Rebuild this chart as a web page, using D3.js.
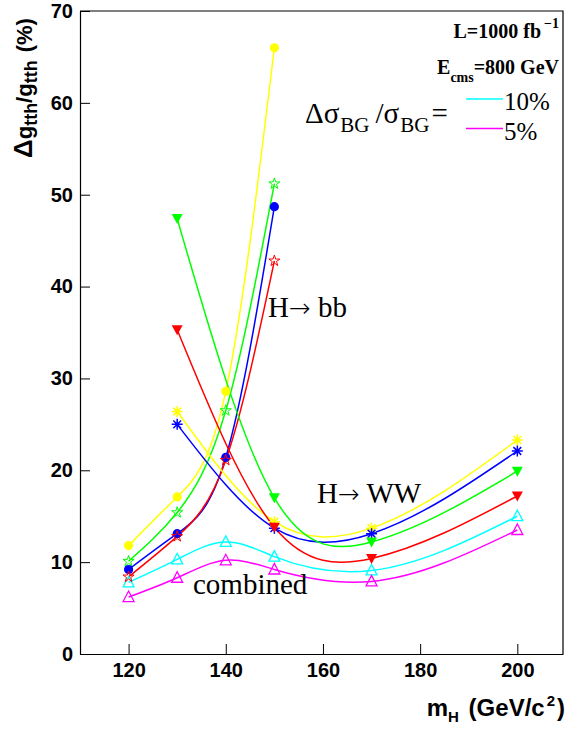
<!DOCTYPE html>
<html>
<head>
<meta charset="utf-8">
<script src="https://cdn.jsdelivr.net/npm/d3@7"></script>
<style>
  html, body { margin: 0; padding: 0; background: #fff; }
  svg { display: block; }
</style>
</head>
<body>
<svg id="chart" width="566" height="730"></svg>
<script>
// ---------------- data ----------------
const massBB   = [120, 130, 140, 150];
const massWW   = [130, 150, 170, 200];
const massComb = [120, 130, 140, 150, 170, 200];

const bbYellow = [11.8, 17.1, 28.6, 66.0];
const bbGreen  = [10.1, 15.4, 26.5, 51.2];
const bbBlue   = [9.2, 13.1, 21.4, 48.7];
const bbRed    = [8.4, 12.8, 21.1, 42.8];

const wwYellow = [26.4, 14.4, 13.7, 23.3];
const wwBlue   = [25.0, 13.7, 13.1, 22.1];
const wwGreen  = [47.4, 17.0, 12.2, 19.9];
const wwRed    = [35.3, 13.8, 10.4, 17.2];

const comb10 = [7.8, 10.3, 12.2, 10.6, 9.1, 15.0];
const comb5  = [6.2, 8.3, 10.2, 9.2, 7.9, 13.5];

const xMajorTicks = [120, 140, 160, 180, 200];
const yMajorTicks = [0, 10, 20, 30, 40, 50, 60, 70];
const legendLabels = ["10%", "5%"];

// ---------------- natural cubic spline y(x) as a d3 curve ----------------
function naturalDerivs(t, v) {
  const n = v.length - 1;
  const h = d3.range(n).map(i => t[i + 1] - t[i]);
  const M = new Array(n + 1).fill(0);
  if (n >= 2) {
    const a = [], b = [], c = [], r = [];
    for (let i = 1; i < n; i++) {
      a.push(h[i - 1]); b.push(2 * (h[i - 1] + h[i])); c.push(h[i]);
      r.push(6 * ((v[i + 1] - v[i]) / h[i] - (v[i] - v[i - 1]) / h[i - 1]));
    }
    const m = b.length;
    for (let i = 1; i < m; i++) {
      const w = a[i] / b[i - 1];
      b[i] -= w * c[i - 1]; r[i] -= w * r[i - 1];
    }
    const sol = new Array(m);
    sol[m - 1] = r[m - 1] / b[m - 1];
    for (let i = m - 2; i >= 0; i--) sol[i] = (r[i] - c[i] * sol[i + 1]) / b[i];
    for (let i = 1; i < n; i++) M[i] = sol[i - 1];
  }
  const d0 = [], d1 = [];
  for (let i = 0; i < n; i++) {
    const s = (v[i + 1] - v[i]) / h[i];
    d0.push(s - h[i] * (2 * M[i] + M[i + 1]) / 6);
    d1.push(s + h[i] * (M[i] + 2 * M[i + 1]) / 6);
  }
  return {h, d0, d1};
}
function curveSplineX(context) {
  let pts;
  return {
    lineStart() { pts = []; },
    point(px, py) { pts.push([+px, +py]); },
    lineEnd() {
      const n = pts.length;
      if (!n) return;
      context.moveTo(pts[0][0], pts[0][1]);
      if (n === 2) { context.lineTo(pts[1][0], pts[1][1]); return; }
      const Y = naturalDerivs(pts.map(p => p[0]), pts.map(p => p[1]));
      for (let i = 0; i < n - 1; i++) {
        const h = Y.h[i];
        context.bezierCurveTo(
          pts[i][0] + h / 3, pts[i][1] + Y.d0[i] * h / 3,
          pts[i + 1][0] - h / 3, pts[i + 1][1] - Y.d1[i] * h / 3,
          pts[i + 1][0], pts[i + 1][1]);
      }
    },
    areaStart() {}, areaEnd() {}
  };
}

// ---------------- layout ----------------
const svg = d3.select("#chart");
const L = 80, R = 563, T = 11, B = 654;
const x = d3.scaleLinear().domain([110, 209.4]).range([L, R]);
const y = d3.scaleLinear().domain([0, 70]).range([B, T]);

const series = [
  {m: massComb, v: comb10, color: "#00ffff", marker: "openTriUp"},
  {m: massComb, v: comb5,  color: "#ff00ff", marker: "openTriUp"},
  {m: massBB, v: bbYellow, color: "#ffff00", marker: "circle"},
  {m: massBB, v: bbGreen,  color: "#00ff00", marker: "openStar"},
  {m: massBB, v: bbBlue,   color: "#0000ff", marker: "circle"},
  {m: massBB, v: bbRed,    color: "#ff0000", marker: "openStar"},
  {m: massWW, v: wwYellow, color: "#ffff00", marker: "asterisk"},
  {m: massWW, v: wwBlue,   color: "#0000ff", marker: "asterisk"},
  {m: massWW, v: wwGreen,  color: "#00ff00", marker: "triDown"},
  {m: massWW, v: wwRed,    color: "#ff0000", marker: "triDown"}
];

const line = d3.line().x(d => x(d[0])).y(d => y(d[1])).curve(curveSplineX);

const gLines = svg.append("g");
const gMarks = svg.append("g");

series.forEach(s => {
  const pts = s.m.map((mv, i) => [mv, s.v[i]]);
  gLines.append("path")
    .attr("d", line(pts))
    .attr("fill", "none")
    .attr("stroke", s.color)
    .attr("stroke-width", 1.5);
  pts.forEach(p => {
    const cx = x(p[0]), cy = y(p[1]);
    const g = gMarks.append("g").attr("transform", `translate(${cx},${cy})`);
    if (s.marker === "circle") {
      g.append("circle").attr("r", 4.6).attr("fill", s.color);
    } else if (s.marker === "triDown") {
      g.append("path").attr("d", "M-5.5,-4.5L5.5,-4.5L0,5.5Z").attr("fill", s.color);
    } else if (s.marker === "openTriUp") {
      g.append("path").attr("d", "M-5.5,4.5L5.5,4.5L0,-6Z")
        .attr("fill", "none").attr("stroke", s.color).attr("stroke-width", 1.3);
    } else if (s.marker === "openStar") {
      g.append("path").attr("d", d3.symbol(d3.symbolStar, 38)())
        .attr("fill", "none").attr("stroke", s.color).attr("stroke-width", 1);
    } else if (s.marker === "asterisk") {
      const r = 5.5, d = r * Math.SQRT1_2;
      g.append("path")
        .attr("d", `M${-r},0L${r},0M0,${-r}L0,${r}M${-d},${-d}L${d},${d}M${-d},${d}L${d},${-d}`)
        .attr("stroke", s.color).attr("stroke-width", 1.5).attr("fill", "none");
    }
  });
});

// ---------------- axes ----------------
const axisFont = "'Liberation Sans', Arial, sans-serif";
const xMinor = d3.range(115, 209, 5);
const yMinor = d3.range(0, 70.1, 2);

const gx = svg.append("g").attr("transform", `translate(0,${B})`);
gx.call(d3.axisBottom(x).tickValues(xMinor).tickSizeInner(-5).tickSizeOuter(0).tickFormat(""));
gx.call(d3.axisBottom(x).tickValues(xMajorTicks).tickSizeInner(-10).tickSizeOuter(0).tickPadding(9));
gx.selectAll("text").attr("font-family", axisFont).attr("font-weight", "bold")
  .attr("font-size", 20).attr("fill", "#000");

const gy = svg.append("g").attr("transform", `translate(${L},0)`);
gy.call(d3.axisLeft(y).tickValues(yMinor).tickSizeInner(-5).tickSizeOuter(0).tickFormat(""));
gy.call(d3.axisLeft(y).tickValues(yMajorTicks).tickSizeInner(-10).tickSizeOuter(0).tickPadding(7));
gy.selectAll("text").attr("font-family", axisFont).attr("font-weight", "bold")
  .attr("font-size", 20).attr("fill", "#000");

svg.selectAll(".domain").attr("stroke", "#000").attr("stroke-width", 1.2);
svg.selectAll(".tick line").attr("stroke", "#000");

// frame
svg.append("path").attr("d", `M${L},${T}L${R},${T}L${R},${B}`)
  .attr("fill", "none").attr("stroke", "#000").attr("stroke-width", 1.2);

// ---------------- axis titles ----------------
const yt = svg.append("text")
  .attr("transform", "translate(32,158) rotate(-90)")
  .attr("font-family", axisFont).attr("font-weight", "bold").attr("font-size", 22).attr("fill", "#000");
yt.append("tspan").attr("font-size", 26).text("Δ");
yt.append("tspan").text("g");
yt.append("tspan").attr("font-size", 18).attr("dy", 5).text("tth");
yt.append("tspan").attr("dy", -5).text("/g");
yt.append("tspan").attr("font-size", 18).attr("dy", 5).text("tth");
yt.append("tspan").attr("dy", -5).attr("dx", 8).text("(%)");

const xt = svg.append("text")
  .attr("x", 565).attr("y", 716).attr("text-anchor", "end")
  .attr("font-family", axisFont).attr("font-weight", "bold").attr("font-size", 24).attr("fill", "#000");
xt.append("tspan").text("m");
xt.append("tspan").attr("font-size", 15).attr("dy", 6).text("H");
xt.append("tspan").attr("dy", -6).attr("dx", 3).text(" (GeV/c");
xt.append("tspan").attr("font-size", 15).attr("dy", -10).attr("dx", 2).text("2");
xt.append("tspan").attr("dy", 10).attr("dx", 2).text(")");

// ---------------- annotations ----------------
const serif = "'Liberation Serif', 'Times New Roman', serif";

const lumi = svg.append("text").attr("x", 559).attr("y", 38).attr("text-anchor", "end")
  .attr("font-family", serif).attr("font-weight", "bold").attr("font-size", 20).attr("fill", "#000");
lumi.append("tspan").text("L=1000 fb");
lumi.append("tspan").attr("font-size", 14).attr("dy", -10).attr("dx", 3).text("−1");

const ecm = svg.append("text").attr("x", 559).attr("y", 74).attr("text-anchor", "end")
  .attr("font-family", serif).attr("font-weight", "bold").attr("font-size", 20).attr("fill", "#000");
ecm.append("tspan").text("E");
ecm.append("tspan").attr("font-size", 14).attr("dy", 8).text("cms");
ecm.append("tspan").attr("dy", -8).text("=800 GeV");

const sig = svg.append("text").attr("x", 305).attr("y", 123)
  .attr("font-family", serif).attr("font-size", 29).attr("fill", "#000");
sig.append("tspan").text("Δσ");
sig.append("tspan").attr("font-size", 21).attr("dy", 9).attr("dx", 1).text("BG");
sig.append("tspan").attr("dy", -9).attr("dx", 6).text("/σ");
sig.append("tspan").attr("font-size", 21).attr("dy", 9).attr("dx", 1).text("BG");
sig.append("tspan").attr("dy", -9).attr("dx", 2).text("=");

// legend
const legColors = ["#00ffff", "#ff00ff"];
legendLabels.forEach((lab, i) => {
  const ly = 99 + i * 29.5;
  svg.append("line").attr("x1", 466).attr("x2", 503).attr("y1", ly).attr("y2", ly)
    .attr("stroke", legColors[i]).attr("stroke-width", 1.3);
  svg.append("text").attr("x", 504).attr("y", ly + 11)
    .attr("font-family", serif).attr("font-size", 25).attr("fill", "#000").text(lab);
});

const ann = [
  {h: "H", rest: " bb", x: 268, y: 317},
  {h: "H", rest: " WW", x: 317, y: 503}
];
ann.forEach(a => {
  const t = svg.append("text").attr("x", a.x).attr("y", a.y)
    .attr("font-family", serif).attr("font-size", 29).attr("fill", "#000");
  t.append("tspan").text(a.h);
  t.append("tspan").attr("font-family", "'DejaVu Sans', sans-serif").attr("font-size", 26)
    .attr("font-weight", 200).text("→");
  t.append("tspan").text(a.rest);
});
svg.append("text").attr("x", 193).attr("y", 594)
  .attr("font-family", serif).attr("font-size", 29).attr("fill", "#000").text("combined");
</script>
</body>
</html>
